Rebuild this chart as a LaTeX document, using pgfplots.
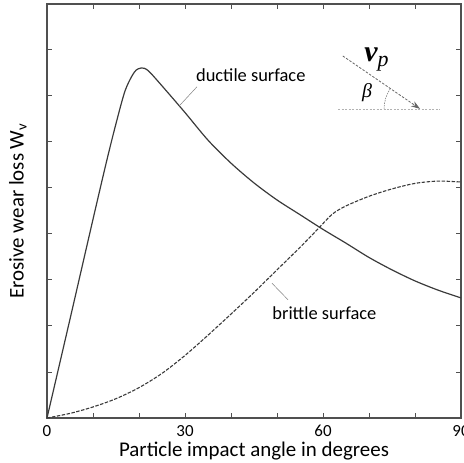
\documentclass[border=0pt]{standalone}
\usepackage{fontspec}
\setmainfont{Carlito}
\newfontfamily\serifit{Liberation Serif}
\usepackage{pgfplots}
\pgfplotsset{compat=1.18}
\usetikzlibrary{arrows.meta}
\definecolor{curve}{HTML}{3A3A3A}
\definecolor{axcol}{HTML}{505050}
\begin{document}
\begin{tikzpicture}
\begin{axis}[name=ax,
  scale only axis, width=414bp, height=414bp,
  xmin=0, xmax=90, ymin=0, ymax=9,
  axis line style={axcol, line width=1.3pt},
  xtick={0,30,60,90},
  minor xtick={10,20,40,50,70,80},
  ytick={1,2,3,4,5,6,7,8},
  yticklabels={},
  tick style={axcol, line width=1pt},
  major tick length=5bp, minor tick length=5bp,
  tick align=inside,
  xticklabel style={font=\fontsize{17}{19}\selectfont, yshift=-4bp},
  /pgf/number format/assume math mode=true,
  xlabel={Particle impact angle in degrees},
  xlabel style={font=\fontsize{21}{23}\selectfont, yshift=2bp},
  ylabel={Erosive wear loss W\textsubscript{v}},
  ylabel style={font=\fontsize{21}{23}\selectfont, yshift=10bp},
  clip=false,
]
\addplot[curve, line width=1.2pt, smooth] coordinates {
(0,0) (5,2.15) (10,4.32) (13,5.6) (15,6.4) (17,7.12) (19,7.52) (20.5,7.61)
(22,7.55) (25,7.22) (30,6.64) (35,6.04) (40,5.54) (45,5.11) (50,4.74)
(55,4.42) (60,4.10) (65,3.80) (70,3.49) (75,3.22) (80,2.98) (85,2.78) (90,2.61)};
\addplot[curve, line width=1.1pt, dash pattern=on 3.5pt off 1.5pt, smooth] coordinates {
(0,0) (5,0.10) (10,0.24) (15,0.42) (20,0.66) (25,0.97) (30,1.36) (35,1.80)
(40,2.26) (45,2.73) (50,3.22) (55,3.71) (59,4.12) (62,4.43) (65,4.61)
(70,4.82) (75,4.98) (80,5.10) (85,5.15) (90,5.13)};
% labels
\node[font=\fontsize{18.5}{20}\selectfont] at (axis cs:44.3,7.46) {ductile surface};
\node[font=\fontsize{18.5}{20}\selectfont] at (axis cs:60.3,2.28) {brittle surface};
\draw[gray, line width=0.5pt] (axis cs:32.6,7.20) -- (axis cs:28.7,6.78);
\draw[gray, line width=0.5pt] (axis cs:48.9,2.93) -- (axis cs:52.4,2.57);
% impact diagram
\draw[gray!60, line width=0.7pt, dash pattern=on 2pt off 1.5pt] (axis cs:63.3,6.72) -- (axis cs:85.4,6.72);
\draw[gray!80!black, line width=0.8pt, dash pattern=on 2.5pt off 1.5pt, -{Stealth[length=9bp,width=6bp]}] (axis cs:64.3,7.87) -- (axis cs:81.1,6.72);
\draw[gray, line width=0.6pt, dash pattern=on 1.5pt off 1pt] (axis cs:81.1,6.72) ++(180:36bp) arc[start angle=180, end angle=146, radius=36bp];
\node[font=\serifit\itshape\fontsize{20}{22}\selectfont] at (axis cs:69.6,7.07) {β};
\node[inner sep=0pt] at (axis cs:71.6,7.80) {\serifit\itshape\bfseries\fontsize{30}{32}\selectfont v\raisebox{-5bp}{\mdseries\fontsize{22}{24}\selectfont p}};
\end{axis}
\pgfresetboundingbox
\path[use as bounding box] ([xshift=-47bp,yshift=-45bp]ax.south west) rectangle ([xshift=3bp,yshift=4bp]ax.north east);
\end{tikzpicture}
\end{document}
